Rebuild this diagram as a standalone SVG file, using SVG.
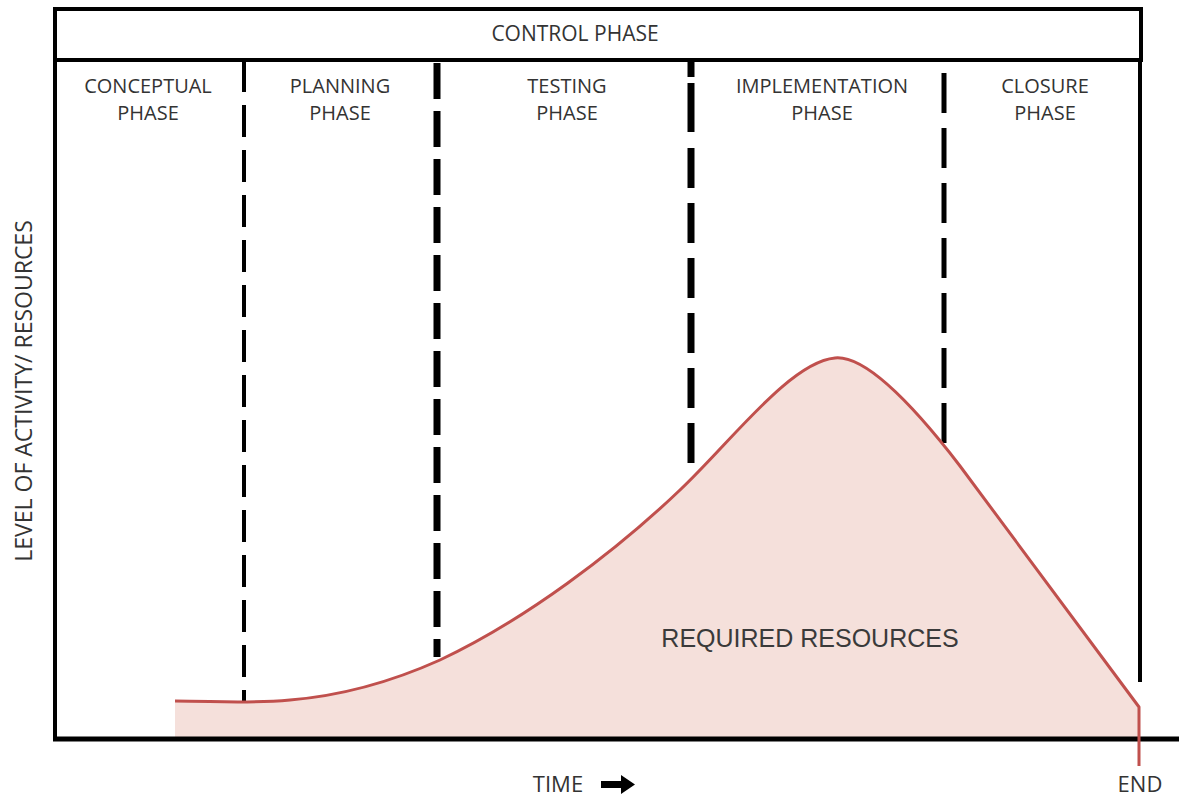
<svg xmlns="http://www.w3.org/2000/svg" width="1187" height="796" viewBox="0 0 1187 796">
  <style>
    .lbl { font-family: "Open Sans", "Liberation Sans", sans-serif; fill: #333333; text-anchor: middle; }
    .phase { font-size: 20px; }
    .frame { fill: none; stroke: #000000; stroke-width: 4; }
    .divider { stroke: #000000; fill: none; }
    .curve { fill: none; stroke: #c0504d; stroke-width: 3; stroke-linejoin: round; }
  </style>
  <rect width="1187" height="796" fill="#ffffff"/>

  <!-- resource curve area -->
  <g id="resource-area">
    <path d="M175,739 L175,701 C215,701 245,704 290,700 C350,695 400,678 440,660 C525,620 615,552 680,490 C730,443 790,362 835,358 C855,356 890,375 960,466 L1139,707 L1139,739 Z" fill="#f5e0db"/>
  </g>

  <!-- frame: control bar, side walls, time axis -->
  <g id="control-phase">
    <rect x="55" y="9" width="1086" height="51" class="frame"/>
    <text class="lbl" x="575" y="41" font-size="21">CONTROL PHASE</text>
  </g>
  <g id="axes">
    <line x1="55" y1="60" x2="55" y2="741" stroke="#000" stroke-width="4"/>
    <line x1="1140" y1="60" x2="1140" y2="682" stroke="#000" stroke-width="4"/>
    <line x1="53" y1="739" x2="1179" y2="739" stroke="#000" stroke-width="5"/>
  </g>

  <!-- phase dividers -->
  <g id="connectors">
    <line class="divider" x1="244" y1="60" x2="244" y2="703" stroke-width="4" stroke-dasharray="32 13"/>
    <line class="divider" x1="437" y1="63" x2="437" y2="657" stroke-width="7" stroke-dasharray="36 12"/>
    <line class="divider" x1="691" y1="60" x2="691" y2="77" stroke-width="7"/>
    <line class="divider" x1="691" y1="83" x2="691" y2="132" stroke-width="7"/>
    <line class="divider" x1="691" y1="148" x2="691" y2="463" stroke-width="7" stroke-dasharray="40 15"/>
    <line class="divider" x1="944" y1="73" x2="944" y2="443" stroke-width="5" stroke-dasharray="40 15"/>
  </g>

  <!-- phase labels -->
  <g id="conceptual-phase">
    <text class="lbl phase" x="148" y="93">CONCEPTUAL</text>
    <text class="lbl phase" x="148" y="120">PHASE</text>
  </g>
  <g id="planning-phase">
    <text class="lbl phase" x="340" y="93">PLANNING</text>
    <text class="lbl phase" x="340" y="120">PHASE</text>
  </g>
  <g id="testing-phase">
    <text class="lbl phase" x="567" y="93">TESTING</text>
    <text class="lbl phase" x="567" y="120">PHASE</text>
  </g>
  <g id="implementation-phase">
    <text class="lbl phase" x="822" y="93">IMPLEMENTATION</text>
    <text class="lbl phase" x="822" y="120">PHASE</text>
  </g>
  <g id="closure-phase">
    <text class="lbl phase" x="1045" y="93">CLOSURE</text>
    <text class="lbl phase" x="1045" y="120">PHASE</text>
  </g>

  <!-- resource curve outline -->
  <g id="resource-curve">
    <path class="curve" d="M175,701 C215,701 245,704 290,700 C350,695 400,678 440,660 C525,620 615,552 680,490 C730,443 790,362 835,358 C855,356 890,375 960,466 L1139,707 L1139,766"/>
    <text x="810" y="647" font-family="'Liberation Sans', Arial, sans-serif" font-size="25" fill="#3a3a3a" text-anchor="middle">REQUIRED RESOURCES</text>
  </g>

  <!-- axis labels -->
  <g id="y-label">
    <text class="lbl" font-size="23" transform="translate(32,391) rotate(-90)">LEVEL OF ACTIVITY/ RESOURCES</text>
  </g>
  <g id="time-label">
    <text class="lbl" x="558" y="792" font-size="22">TIME</text>
    <!-- heavy right arrow after the axis title -->
    <polygon points="601,781 621,781 621,775 635,784.5 621,794 621,788 601,788" fill="#000"/>
  </g>
  <g id="end-label">
    <text class="lbl" x="1140" y="792" font-size="22">END</text>
  </g>
</svg>
